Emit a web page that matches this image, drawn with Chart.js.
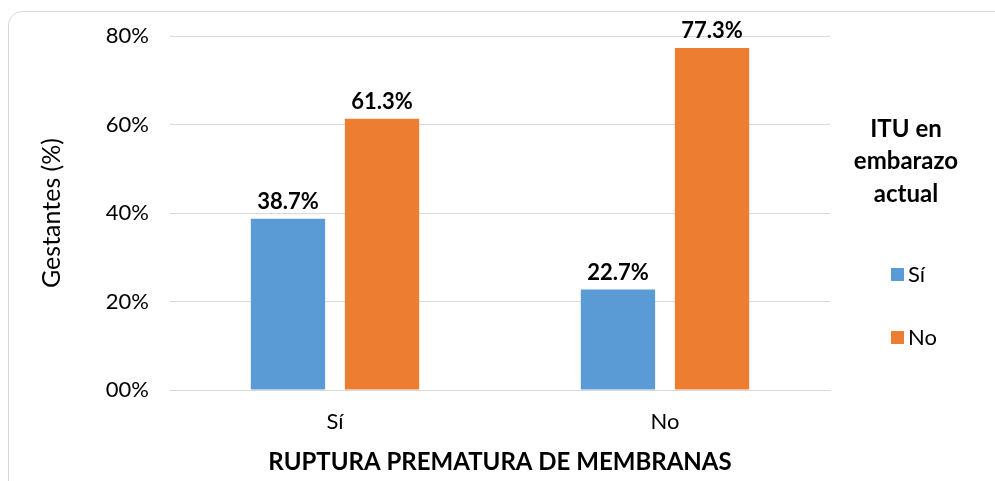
<!DOCTYPE html>
<html>
<head>
<meta charset="utf-8">
<script src="https://cdn.jsdelivr.net/npm/chart.js@4"></script>
<style>
  html, body { margin: 0; padding: 0; background: #fff; overflow: hidden; }
  #frame {
    position: absolute; left: 8px; top: 11px; width: 1010px; height: 500px;
    border: 1px solid #d9d9d9; border-radius: 14px; box-sizing: border-box;
  }
  #wrap { position: absolute; left: 0; top: 0; width: 995px; height: 481px; }
</style>
</head>
<body>
<div id="frame"></div>
<div id="wrap"><canvas id="chart" width="995" height="481"></canvas></div>
<script>
// Data
const categories = ['Sí', 'No'];
const seriesNames = ['Sí', 'No'];
const seriesSi = [38.7, 22.7];
const seriesNo = [61.3, 77.3];
const yTickLabels = ['00%', '20%', '40%', '60%', '80%'];
const legendTitle = ['ITU en', 'embarazo', 'actual'];

const FONT = 'Lato, "Open Sans", sans-serif';

// Percent labels above each bar
const barLabels = {
    id: 'barLabels',
    afterDatasetsDraw(chart) {
        const ctx = chart.ctx;
        ctx.save();
        ctx.font = 'bold 22px ' + FONT;
        ctx.fillStyle = '#000';
        ctx.textAlign = 'center';
        ctx.textBaseline = 'bottom';
        chart.data.datasets.forEach((ds, i) => {
            chart.getDatasetMeta(i).data.forEach((bar, j) => {
                ctx.fillText(ds.data[j].toFixed(1) + '%', bar.x, bar.y - 6);
            });
        });
        ctx.restore();
    }
};

// Legend on the right, with a three line title
const sideLegend = {
    id: 'sideLegend',
    afterDraw(chart) {
        const ctx = chart.ctx;
        const cx = 906;
        ctx.save();
        ctx.fillStyle = '#000';
        ctx.textAlign = 'center';
        ctx.textBaseline = 'middle';
        ctx.font = 'bold 24px ' + FONT;
        legendTitle.forEach((line, i) => ctx.fillText(line, cx, 129 + i * 32.5));
        ctx.font = '22px ' + FONT;
        ctx.textAlign = 'left';
        chart.data.datasets.forEach((ds, i) => {
            const y = 274 + i * 63;
            ctx.fillStyle = ds.backgroundColor;
            ctx.fillRect(891, y - 6, 13, 13);
            ctx.fillStyle = '#000';
            ctx.fillText(ds.label, 908, y + 1);
        });
        ctx.restore();
    }
};

new Chart(document.getElementById('chart'), {
    type: 'bar',
    data: {
        labels: categories,
        datasets: [
            { label: seriesNames[0], data: seriesSi, backgroundColor: '#5b9bd5' },
            { label: seriesNames[1], data: seriesNo, backgroundColor: '#ed7d31' }
        ]
    },
    options: {
        responsive: false,
        animation: false,
        categoryPercentage: 0.57,
        barPercentage: 0.79,
        layout: { padding: { top: 36, right: 165, left: 33, bottom: 0 } },
        plugins: {
            legend: { display: false },
            tooltip: { enabled: false }
        },
        scales: {
            x: {
                grid: { display: false },
                border: { color: '#d9d9d9' },
                ticks: { color: '#000', font: { family: FONT, size: 22 }, padding: 11 },
                title: {
                    display: true,
                    text: 'RUPTURA PREMATURA DE MEMBRANAS',
                    color: '#000',
                    font: { family: FONT, size: 24, weight: 'bold' },
                    padding: { top: 19 }
                },
                afterFit(scale) { scale.height = 91; }
            },
            y: {
                min: 0,
                max: 80,
                ticks: {
                    stepSize: 20,
                    color: '#000',
                    font: { family: FONT, size: 22 },
                    padding: 21,
                    callback: (v, i) => yTickLabels[i]
                },
                grid: { color: '#d9d9d9', drawTicks: false },
                border: { display: false },
                title: {
                    display: true,
                    text: 'Gestantes (%)',
                    color: '#000',
                    font: { family: FONT, size: 25 }
                },
                afterFit(scale) { scale.width = 137; }
            }
        }
    },
    plugins: [barLabels, sideLegend]
});
</script>
</body>
</html>
